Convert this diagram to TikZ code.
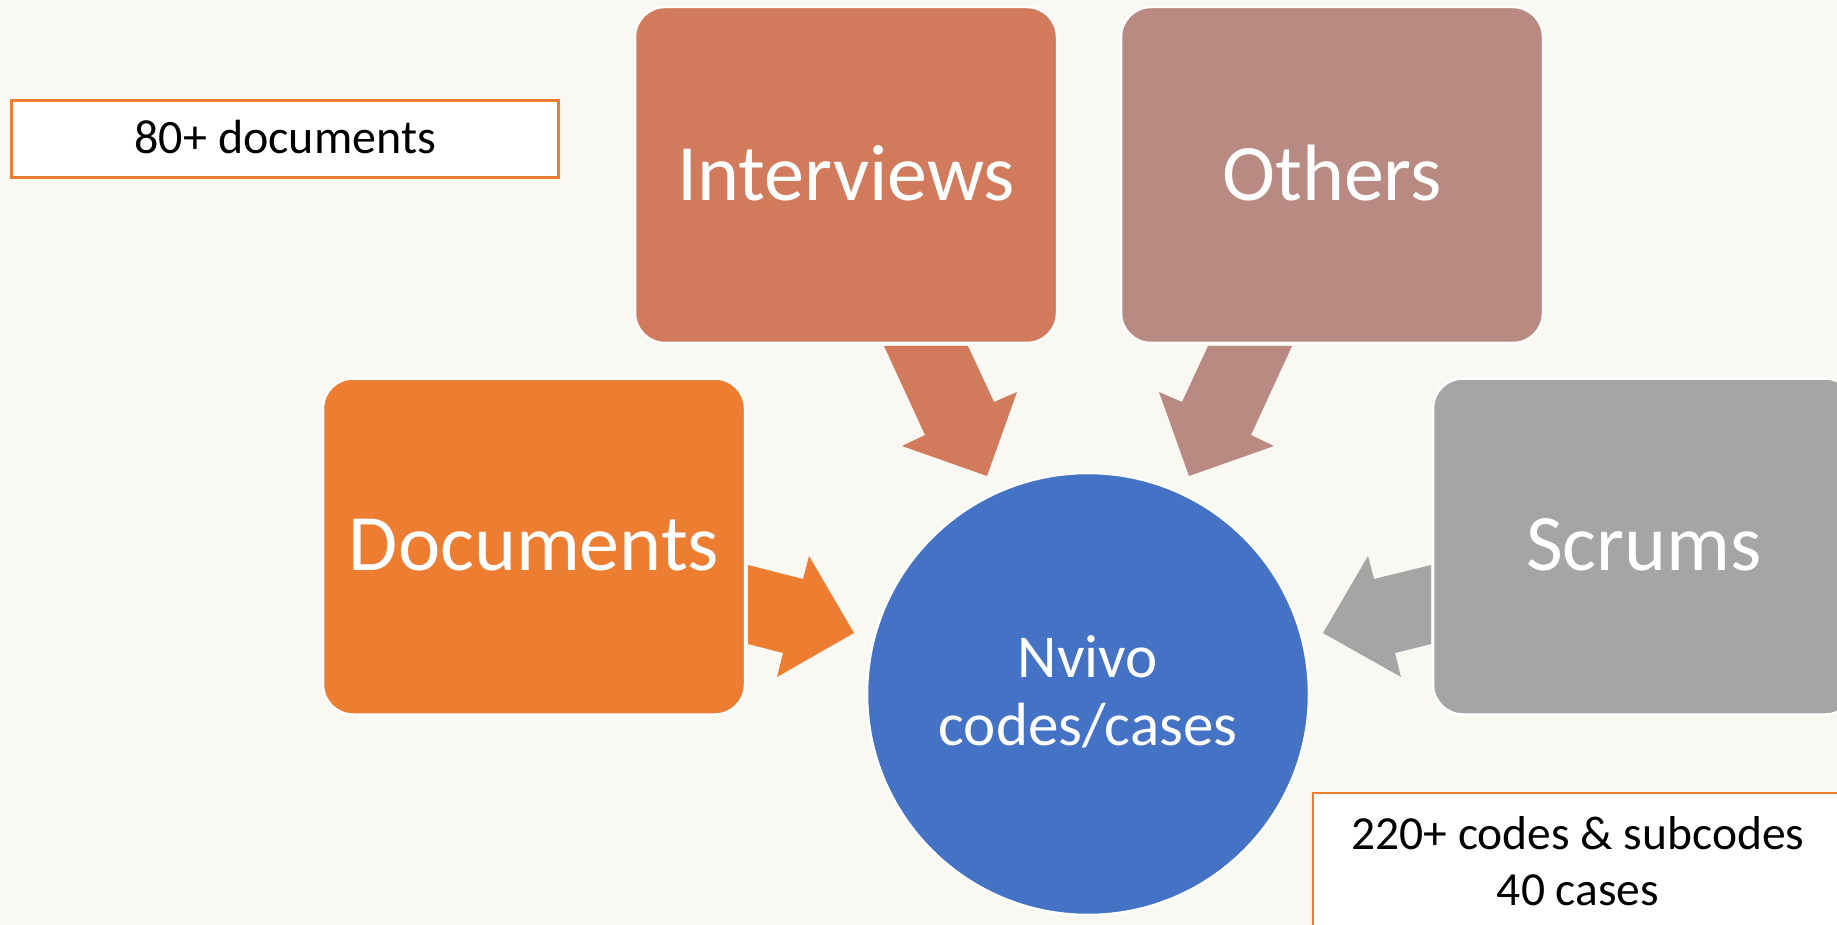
\documentclass[tikz,border=0pt]{standalone}
\usepackage{fontspec}
\setmainfont{Carlito}
\definecolor{bg}{HTML}{F9F8F3}
\definecolor{cInt}{HTML}{D27B5C}
\definecolor{cOth}{HTML}{B98A81}
\definecolor{cDoc}{HTML}{ED7D31}
\definecolor{cScr}{HTML}{A5A5A5}
\definecolor{cNv}{HTML}{4472C4}
\begin{document}
\begin{tikzpicture}[x=1pt,y=-1pt,
  blk/.style={draw=white, line width=2.5pt, rounded corners=30pt, minimum width=422pt, minimum height=336pt, inner sep=0pt},
  lbl/.style={text=white, font=\fontsize{80}{96}\selectfont},
  notebox/.style={draw=cDoc, line width=2.8pt, fill=white, inner sep=0pt},
  notetext/.style={text=black, align=center, anchor=base, inner sep=0pt}]
\useasboundingbox (0,0) rectangle (1837,925);
\fill[bg] (0,0) rectangle (1837,925);
\begin{scope}
\clip (0,0) rectangle (1837,925);
% boxes
\node[blk, fill=cInt] (int) at (846,175) {};
\node[blk, fill=cOth] (oth) at (1332,175) {};
\node[blk, fill=cDoc] (doc) at (534,546.5) {};
\node[blk, fill=cScr] (scr) at (1644,546.5) {};
\node[lbl] (intT) at (846,173) {Interviews};
\node[lbl] (othT) at (1332,173) {Others};
\node[lbl] (docT) at (534,545) {Documents};
\node[lbl] (scrT) at (1644,545) {Scrums};
% centre circle
\node[circle, fill=cNv, draw=white, line width=2.5pt, minimum size=442pt, inner sep=0pt] (nv) at (1088,694) {};
\node[text=white, font=\fontsize{61}{68}\selectfont, align=center, anchor=base, inner sep=0pt] (nvT) at (1088,745) {Nvivo\\codes/cases};
% block arrows
\fill[cInt] (884,346) -- (968,346) -- (994,402) -- (1017,392) -- (987,476) -- (902,446) -- (925,435) -- cycle;
\fill[cOth] (1292,346) -- (1208,346) -- (1182,402) -- (1159,392) -- (1189,476) -- (1274,446) -- (1251,435) -- cycle;
\fill[cDoc] (748,565) -- (803,579) -- (809,556) -- (854,633) -- (777,677) -- (783,653) -- (748,644) -- cycle;
\fill[cScr] (1431,565) -- (1374,579) -- (1368,556) -- (1323,633) -- (1401,677) -- (1395,653) -- (1431,644) -- cycle;
% notes
\node[notebox, minimum width=547pt, minimum height=77pt] (n1) at (285.3,139.4) {};
\node[notetext, font=\fontsize{48}{56}\selectfont] (n1T) at (285.3,154) {80+ documents};
\node[notebox, minimum width=530pt, minimum height=206pt] (n2) at (1578,896) {};
\node[notetext, font=\fontsize{47.5}{56}\selectfont] (n2T) at (1578,905) {220+ codes \& subcodes\\40 cases};
\end{scope}
\end{tikzpicture}
\end{document}
